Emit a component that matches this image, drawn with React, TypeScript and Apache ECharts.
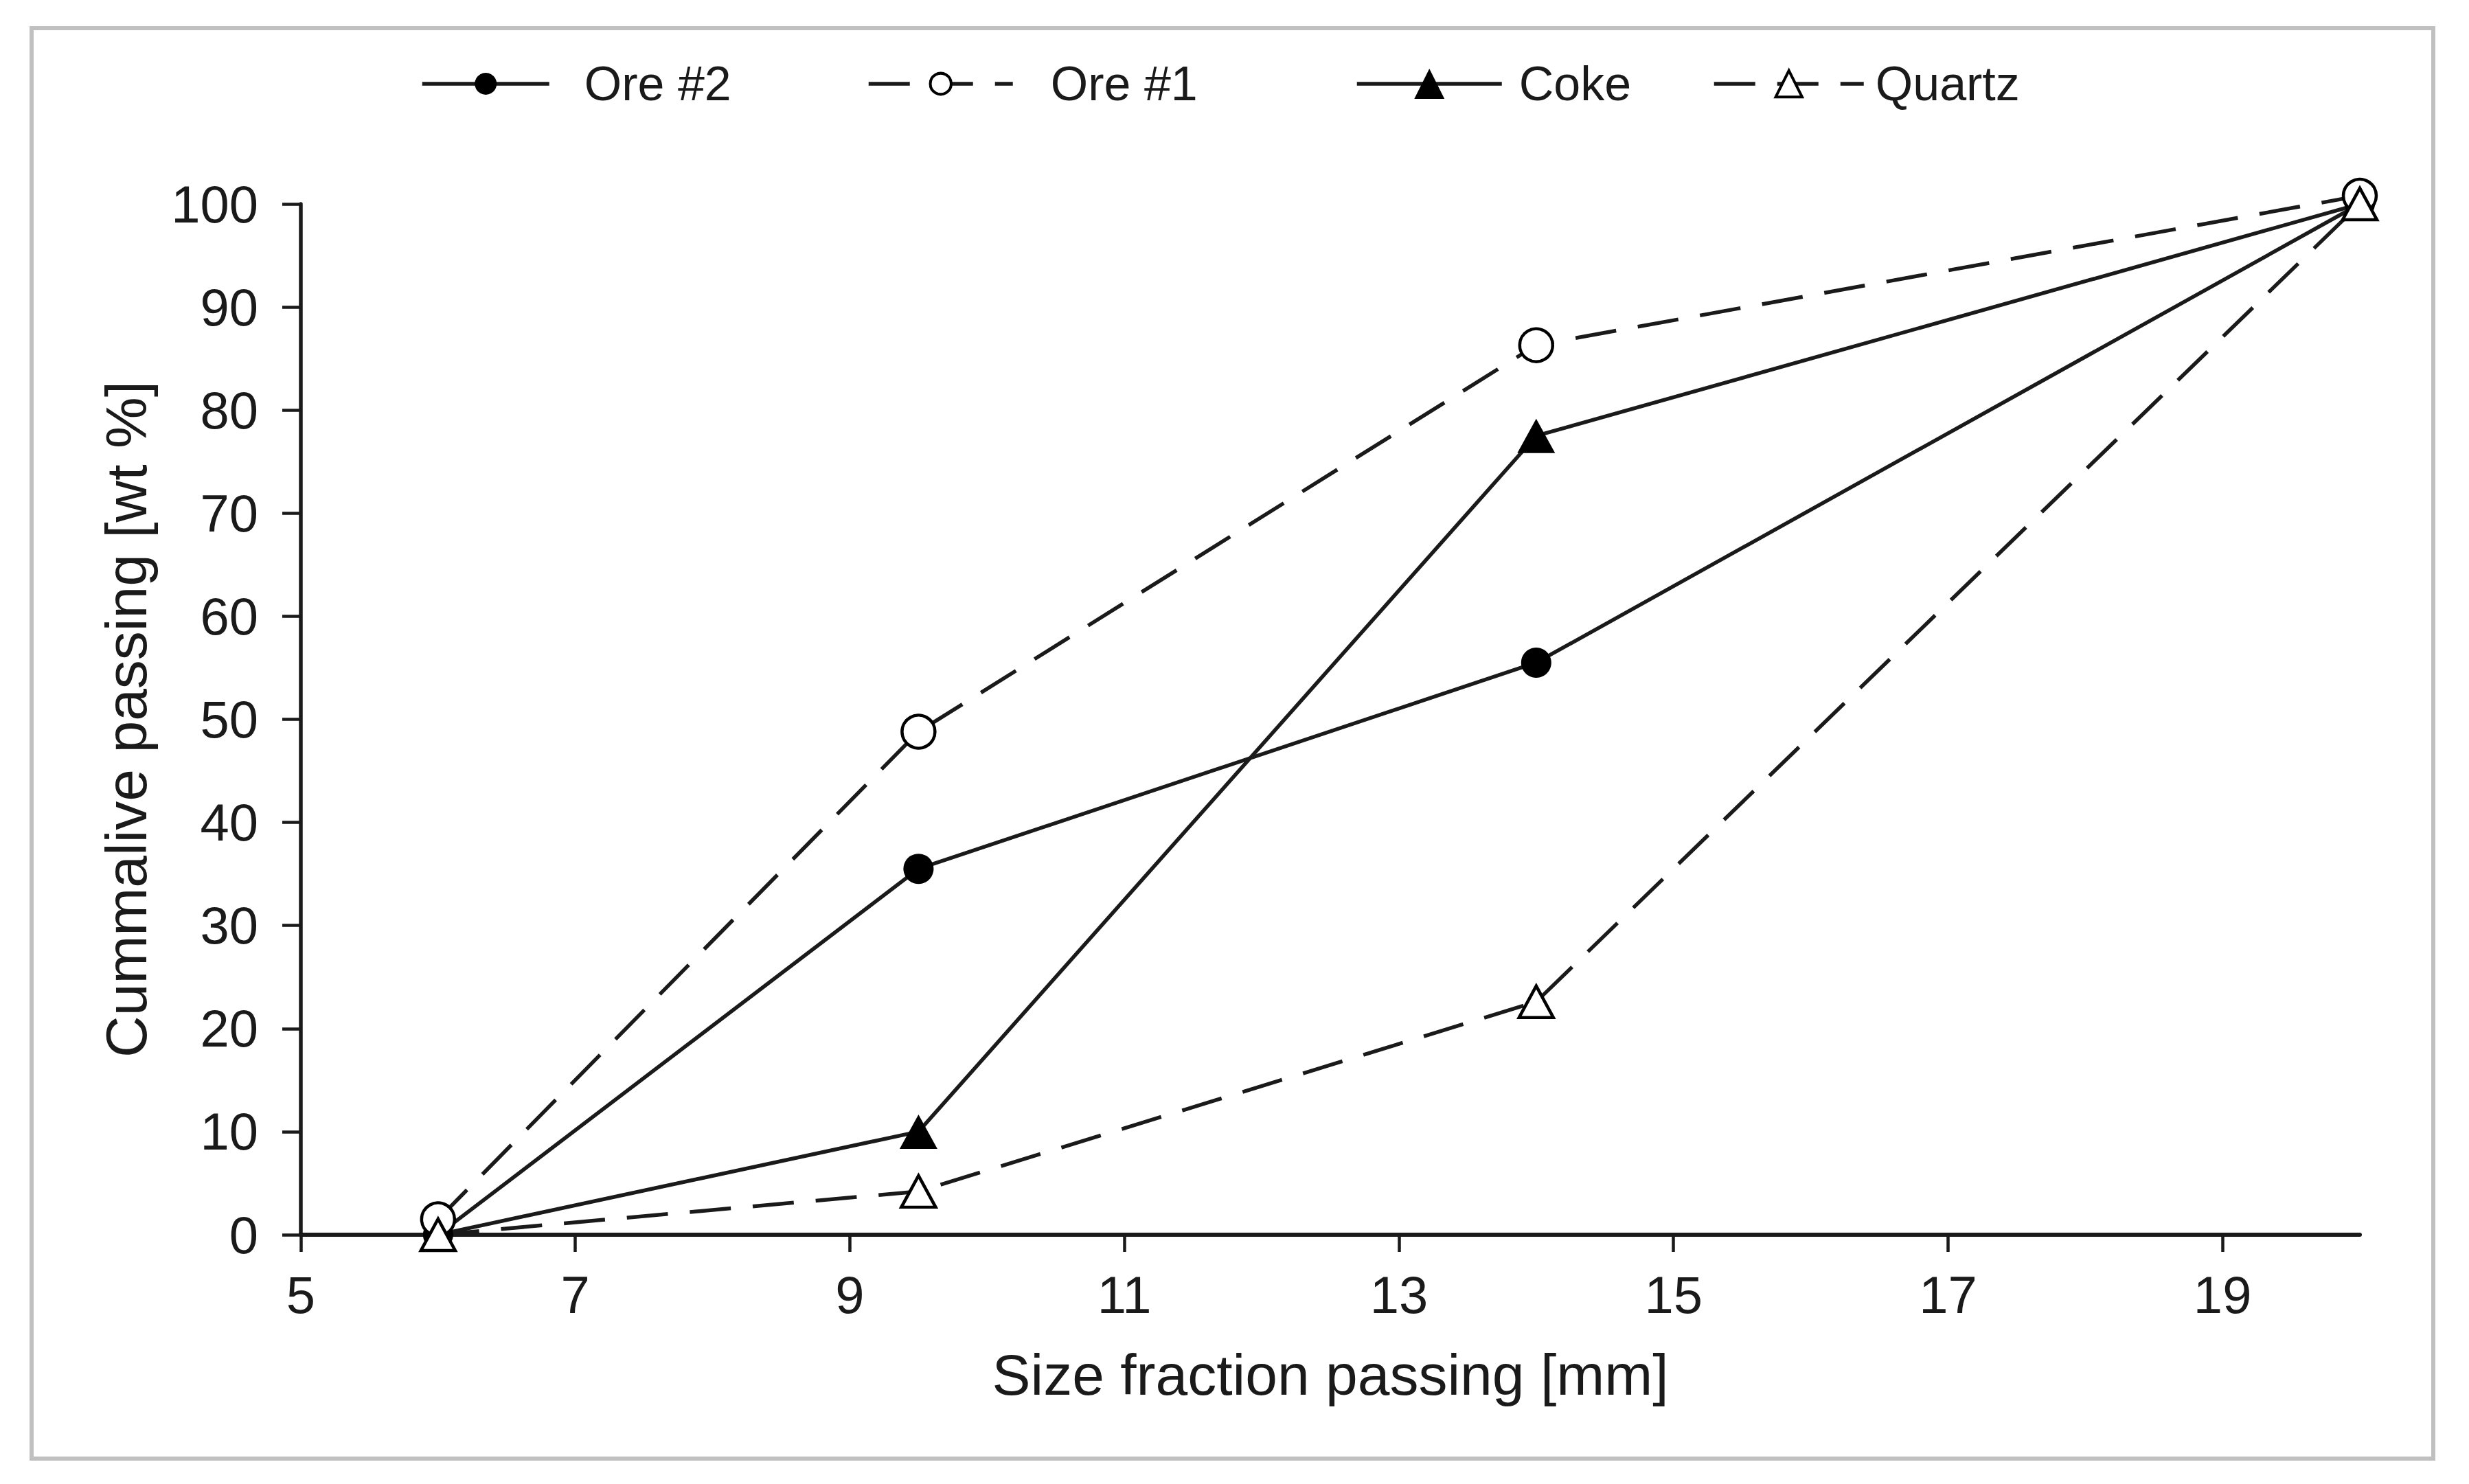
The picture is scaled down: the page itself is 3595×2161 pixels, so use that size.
import React, { useEffect, useRef } from 'react';
import * as echarts from 'echarts';

// ---- data ----
const sizes = [6, 9.5, 14, 20];
const ore2 = [0, 35.5, 55.5, 100];
const ore1 = [1.5, 48.8, 86.3, 100.8];
const coke = [0, 10, 77.5, 100];
const quartz = [0, 4.2, 22.6, 100];
const xTicks = [5, 7, 9, 11, 13, 15, 17, 19];
const seriesNames = ['Ore #2', 'Ore #1', 'Coke', 'Quartz'];

const FONT = "'Liberation Sans', Arial, sans-serif";
const INK = '#1a1a1a';
const DASH = [60, 32];
const LW = 5.5;

const pairs = (ys: number[]) => sizes.map((x, i) => [x, ys[i]]);

function legendItem(name: string, left: number, itemWidth: number, itemHeight: number, gap: number, filled: boolean, dashed: boolean) {
  return {
    data: [name],
    left,
    top: 122 - Math.max(itemHeight, 70) / 2,
    padding: 0,
    itemWidth,
    itemHeight,
    selectedMode: false,
    textStyle: { fontFamily: FONT, fontSize: 70, color: INK, padding: [0, 0, 0, gap] },
    itemStyle: filled
      ? { color: '#000', borderWidth: 0 }
      : { color: '#fff', borderColor: '#000', borderWidth: 4 },
    lineStyle: { color: INK, width: LW, type: dashed ? DASH : 'solid' },
  };
}

export default function App() {
  const ref = useRef<HTMLDivElement>(null);
  useEffect(() => {
    document.body.style.margin = '0';
    const chart = echarts.init(ref.current!, null, { renderer: 'svg' });
    const option: any = {
      animation: false,
      backgroundColor: '#fff',
      textStyle: { fontFamily: FONT },
      graphic: [
        {
          type: 'rect',
          silent: true,
          z: -10,
          shape: { x: 46, y: 41, width: 3497, height: 2083 },
          style: { fill: 'none', stroke: '#c0c0c0', lineWidth: 6 },
        },
      ],
      legend: [
        legendItem(seriesNames[0], 612, 185, 40, 46, true, false),
        legendItem(seriesNames[1], 1262, 210, 38, 50, false, true),
        legendItem(seriesNames[2], 1973, 211, 55, 20, true, false),
        legendItem(seriesNames[3], 2493, 218, 48, 12, false, true),
      ],
      grid: { left: 438, right: 159, top: 297, bottom: 363, containLabel: false },
      xAxis: {
        type: 'value',
        min: 5,
        max: 20,
        interval: 1,
        name: 'Size fraction passing [mm]',
        nameLocation: 'middle',
        nameGap: 162,
        nameTextStyle: { fontFamily: FONT, fontSize: 84, color: INK },
        axisLine: { show: true, onZero: false, lineStyle: { color: INK, width: 6 } },
        axisTick: { show: true, length: 25, customValues: xTicks, lineStyle: { color: INK, width: 4.5 } },
        axisLabel: { customValues: xTicks, margin: 49, fontFamily: FONT, fontSize: 76, color: INK },
        splitLine: { show: false },
      },
      yAxis: {
        type: 'value',
        min: 0,
        max: 100,
        interval: 10,
        name: 'Cummalive passing [wt %]',
        nameLocation: 'middle',
        nameGap: 212,
        nameTextStyle: { fontFamily: FONT, fontSize: 84, color: INK },
        axisLine: { show: true, lineStyle: { color: INK, width: 5.5 } },
        axisTick: { show: true, length: 27, lineStyle: { color: INK, width: 4.5 } },
        axisLabel: { margin: 62, fontFamily: FONT, fontSize: 76, color: INK },
        splitLine: { show: false },
      },
      series: [
        {
          name: seriesNames[0],
          type: 'line',
          data: pairs(ore2),
          symbol: 'circle',
          symbolSize: 44,
          clip: false,
          itemStyle: { color: '#000', borderWidth: 0 },
          lineStyle: { color: INK, width: LW, type: 'solid' },
        },
        {
          name: seriesNames[1],
          type: 'line',
          data: pairs(ore1),
          symbol: 'circle',
          symbolSize: 48,
          clip: false,
          itemStyle: { color: '#fff', borderColor: '#000', borderWidth: 4.5 },
          lineStyle: { color: INK, width: LW, type: DASH },
        },
        {
          name: seriesNames[2],
          type: 'line',
          data: pairs(coke),
          symbol: 'triangle',
          symbolSize: [55, 50],
          clip: false,
          itemStyle: { color: '#000', borderWidth: 0 },
          lineStyle: { color: INK, width: LW, type: 'solid' },
        },
        {
          name: seriesNames[3],
          type: 'line',
          data: pairs(quartz),
          symbol: 'triangle',
          symbolSize: [50, 46],
          clip: false,
          itemStyle: { color: '#fff', borderColor: '#000', borderWidth: 4.5 },
          lineStyle: { color: INK, width: LW, type: DASH },
        },
      ],
    };
    chart.setOption(option);
    return () => chart.dispose();
  }, []);
  return (
    <div
      ref={ref}
      style={{ position: 'fixed', left: 0, top: 0, width: 3595, height: 2161, background: '#fff' }}
    />
  );
}
